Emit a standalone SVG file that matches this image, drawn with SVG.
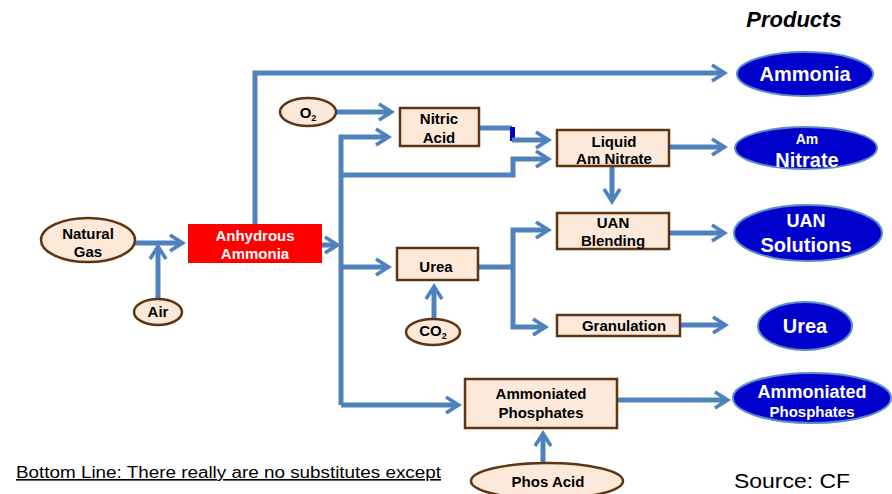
<svg xmlns="http://www.w3.org/2000/svg" width="892" height="494" viewBox="0 0 892 494">
<defs>
<marker id="ah" markerUnits="userSpaceOnUse" viewBox="-12 -10 20 20" markerWidth="20" markerHeight="20" refX="0" refY="0" orient="auto">
<path d="M6,0 L-9,-9.5 L-11,-6.5 L-1,0 L-11,6.5 L-9,9.5 Z" fill="#4F81BD"/>
</marker>
<style>
.c{fill:none;stroke:#4F81BD;stroke-width:5}
.a{marker-end:url(#ah)}
.box{fill:#FDE9D9;stroke:#5E3512;stroke-width:2.5}
.in{fill:#FDE9D9;stroke:#5E3512;stroke-width:2.5}
.prod{fill:#0000CC;stroke:#5B8BC4;stroke-width:2}
.t{font-family:"Liberation Sans",Arial,sans-serif;font-weight:bold;font-size:15px;fill:#000;text-anchor:middle}
.w{font-family:"Liberation Sans",Arial,sans-serif;font-weight:bold;fill:#fff;text-anchor:middle}
</style>
</defs>
<rect width="892" height="494" fill="#fff"/>
<g id="connectors">
<path class="c a" d="M135,243 H180"/>
<path class="c a" d="M158,299 V249"/>
<path class="c a" d="M322,245 H335"/>
<path class="c a" d="M255,224 V73 H722"/>
<path class="c a" d="M341,405 V137 H386"/>
<path class="c a" d="M341,175 H513 V159 H546"/>
<path class="c a" d="M341,267 H386"/>
<path class="c a" d="M341,405 H456"/>
<path class="c a" d="M336,112 H389"/>
<path class="c" d="M480,128 H512"/>
<rect x="510" y="127" width="5" height="14" fill="#0000C0"/>
<path class="c a" d="M512,140 H546"/>
<path class="c a" d="M669,147 H722"/>
<path class="c a" d="M612,166 V199"/>
<path class="c" d="M478,267 H513"/>
<path class="c a" d="M513,267 V230 H546"/>
<path class="c a" d="M513,267 V327 H543"/>
<path class="c a" d="M669,233 H722"/>
<path class="c a" d="M680,325 H723"/>
<path class="c a" d="M617,400 H725"/>
<path class="c a" d="M434,319 V289"/>
<path class="c a" d="M543,463 V436"/>
</g>
<g id="natural-gas">
<ellipse class="in" cx="88" cy="240" rx="47" ry="22"/>
<text class="t" x="88" y="239">Natural</text>
<text class="t" x="88" y="257">Gas</text>
</g>
<g id="air">
<ellipse class="in" cx="158" cy="312" rx="24" ry="13"/>
<text class="t" x="158" y="317">Air</text>
</g>
<g id="anhydrous-ammonia">
<rect x="188" y="224" width="134" height="39" fill="#FF0000"/>
<text class="w" x="255" y="241" font-size="15">Anhydrous</text>
<text class="w" x="255" y="259" font-size="15">Ammonia</text>
</g>
<g id="o2">
<ellipse class="in" cx="308" cy="112" rx="28" ry="14"/>
<text class="t" x="308" y="118" font-size="14">O<tspan font-size="9" dy="3">2</tspan></text>
</g>
<g id="nitric-acid">
<rect class="box" x="400" y="108" width="79" height="38"/>
<text class="t" x="439" y="124">Nitric</text>
<text class="t" x="439" y="143">Acid</text>
</g>
<g id="liquid-am-nitrate">
<rect class="box" x="557" y="130" width="112" height="36"/>
<text class="t" x="614" y="147">Liquid</text>
<text class="t" x="614" y="164">Am Nitrate</text>
</g>
<g id="uan-blending">
<rect class="box" x="557" y="213" width="112" height="36"/>
<text class="t" x="613" y="228">UAN</text>
<text class="t" x="613" y="246">Blending</text>
</g>
<g id="urea-box">
<rect class="box" x="397" y="248" width="81" height="32"/>
<text class="t" x="436" y="272">Urea</text>
</g>
<g id="co2">
<ellipse class="in" cx="433" cy="332" rx="27" ry="13"/>
<text class="t" x="433" y="336" font-size="14">CO<tspan font-size="9" dy="3">2</tspan></text>
</g>
<g id="granulation">
<rect class="box" x="557" y="315" width="123" height="21"/>
<text class="t" x="624" y="331">Granulation</text>
</g>
<g id="ammoniated-phosphates-box">
<rect class="box" x="465" y="379" width="152" height="49"/>
<text class="t" x="541" y="399" font-size="14.5">Ammoniated</text>
<text class="t" x="541" y="418" font-size="14.5">Phosphates</text>
</g>
<g id="phos-acid">
<ellipse class="in" cx="547" cy="481" rx="76" ry="18"/>
<text class="t" x="548" y="487">Phos Acid</text>
</g>
<g id="products-title">
<text x="794" y="27" font-family="Liberation Sans, Arial, sans-serif" font-weight="bold" font-style="italic" font-size="22" text-anchor="middle">Products</text>
</g>
<g id="prod-ammonia">
<ellipse class="prod" cx="805" cy="74" rx="68" ry="22"/>
<text class="w" x="805" y="81" font-size="20">Ammonia</text>
</g>
<g id="prod-am-nitrate">
<ellipse class="prod" cx="806" cy="148" rx="71" ry="21"/>
<text class="w" x="807" y="144" font-size="14">Am</text>
<text class="w" x="807" y="167" font-size="20">Nitrate</text>
</g>
<g id="prod-uan-solutions">
<ellipse class="prod" cx="808" cy="233" rx="74" ry="28"/>
<text class="w" x="806" y="227" font-size="18">UAN</text>
<text class="w" x="806" y="252" font-size="20">Solutions</text>
</g>
<g id="prod-urea">
<ellipse class="prod" cx="805" cy="326" rx="47" ry="24"/>
<text class="w" x="805" y="333" font-size="20">Urea</text>
</g>
<g id="prod-ammoniated-phosphates">
<ellipse class="prod" cx="812" cy="398" rx="79" ry="25"/>
<text class="w" x="812" y="398" font-size="18">Ammoniated</text>
<text class="w" x="812" y="417" font-size="15">Phosphates</text>
</g>
<g id="notes">
<text x="16" y="478" font-family="Liberation Sans, Arial, sans-serif" font-size="16" text-decoration="underline" textLength="425" lengthAdjust="spacingAndGlyphs">Bottom Line: There really are no substitutes except</text>
<text x="734" y="488" font-family="Liberation Sans, Arial, sans-serif" font-size="20" textLength="116" lengthAdjust="spacingAndGlyphs">Source: CF</text>
</g>
</svg>
